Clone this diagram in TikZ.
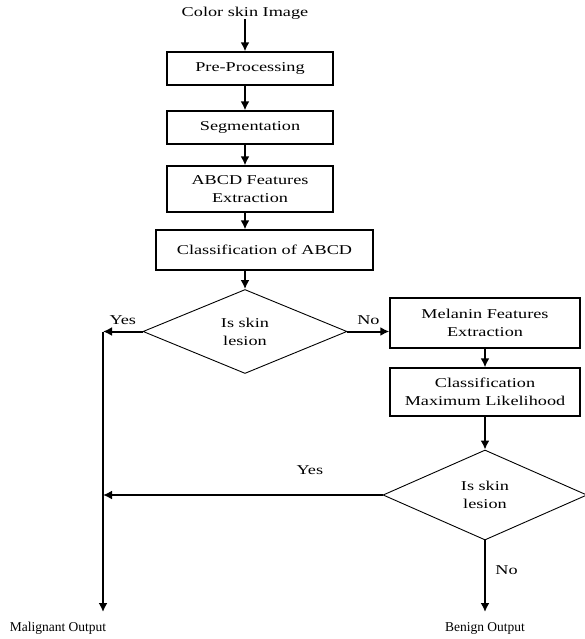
\documentclass[tikz,border=0pt]{standalone}
\usepackage{fontspec}
\setmainfont{Liberation Serif}[FakeStretch=1.35]
\newfontfamily\outfont{Liberation Serif}
\usetikzlibrary{shapes,arrows,arrows.meta}
\tikzstyle{block} = [rectangle, draw, line width=1.3pt, inner sep=0pt,
minimum width=166pt, minimum height=33pt, align=center]
\tikzstyle{decision} = [diamond, draw, line width=0.9pt, inner sep=0pt,
minimum width=204pt, minimum height=84pt, align=center]
\tikzstyle{plain} = [inner sep=0pt, align=center]
\tikzstyle{line} = [draw, line width=2pt]
\tikzstyle{pijl} = [draw, line width=2pt, -{Latex[length=9pt,width=9pt]}]

\begin{document}
\begin{tikzpicture}[x=1pt, y=-1pt, node distance=60pt, font=\fontsize{13.5}{18}\selectfont]
	\useasboundingbox (0,0) rectangle (585,639);
	
	\node [plain] (image) at (245,13) {Color skin Image};
	\node [block, below of=image, node distance=55.5pt, xshift=5pt] (preproc) {Pre-Processing};
	\node [block, below of=preproc, node distance=59pt] (segment) {Segmentation};
	\node [block, below of=segment, node distance=61.5pt, minimum height=46pt] (abcd) {ABCD Features\\ Extraction};
	\node [block, below of=abcd, node distance=61pt, xshift=14.5pt, minimum width=217pt, minimum height=40pt] (classabcd) {Classification of ABCD};
	\node [decision, below of=classabcd, node distance=81.5pt, xshift=-19.5pt] (lesion1) {Is skin\\ lesion};
	
	
	\node [block, right of=lesion1, node distance=240pt, yshift=8.5pt, minimum width=190pt, minimum height=50pt] (melanin) {Melanin Features\\ Extraction};
	\node [block, below of=melanin, node distance=69pt, minimum width=190pt, minimum height=48pt] (likelihood) {Classification\\ Maximum Likelihood};
	\node [decision, below of=likelihood, node distance=103pt, minimum height=90pt] (lesion2) {Is skin\\ lesion};
	
	
	\node [plain, font=\outfont\fontsize{13.5}{18}\selectfont] (malignant) at (58,628) {Malignant Output};
	\node [plain, font=\outfont\fontsize{13.5}{18}\selectfont, below of=lesion2, node distance=133pt] (benign) {Benign Output};
	\coordinate (malend) at (103,612);
	
	
	\path [pijl] (image) -- (image |- preproc.north);
	\path [pijl] (image |- preproc.south) -- (image |- segment.north);
	\path [pijl] (image |- segment.south) -- (image |- abcd.north);
	\path [pijl] (image |- abcd.south) -- (image |- classabcd.north);
	\path [pijl] (image |- classabcd.south) -- (lesion1.north);
	
	
	\path [pijl] (lesion1.east) -- (lesion1.east -| melanin.west) node [midway, above=3pt] {No};
	\path [pijl] (melanin) -- (likelihood);
	\path [pijl] (likelihood) -- (lesion2.north);
	
	
	\path [pijl] (lesion1.west) -- (lesion1.west -| malend) node [midway, above=3pt] {Yes};
	\path [line] (lesion1.west -| malend) -- ([yshift=-1pt]lesion2.west -| malend);
	\path [pijl] (lesion2.west -| malend) -- (malend);
	\path [pijl] (lesion2.west) -- (lesion2.west -| malend) node [pos=0.26, above=16pt] {Yes};
	\path [pijl] (lesion2.south) -- (lesion2.south |- malend) node [pos=0.42, right=6pt] {No};
\end{tikzpicture}
\end{document}
